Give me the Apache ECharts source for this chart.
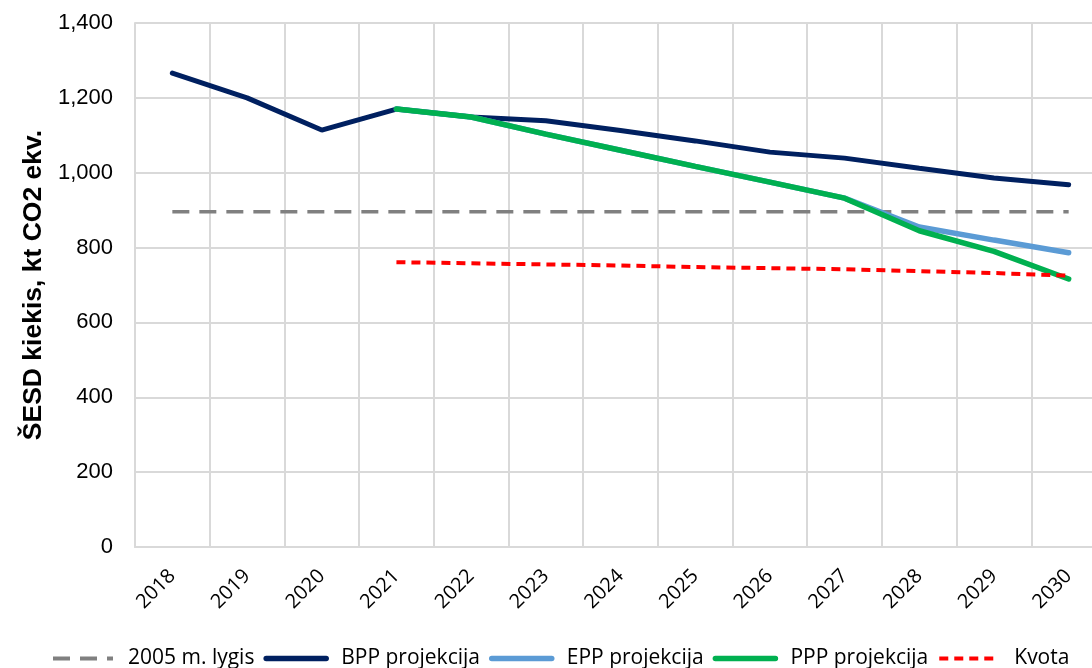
<!DOCTYPE html>
<html>
<head>
<meta charset="utf-8">
<script src="https://cdn.jsdelivr.net/npm/echarts@6/dist/echarts.min.js"></script>
<style>
  html, body { margin: 0; padding: 0; background: #fff; overflow: hidden; }
  #chart { width: 1092px; height: 668px; }
</style>
</head>
<body>
<div id="chart"></div>
<script>
const years = ['2018', '2019', '2020', '2021', '2022', '2023', '2024', '2025', '2026', '2027', '2028', '2029', '2030'];
const level2005 = [896, 896, 896, 896, 896, 896, 896, 896, 896, 896, 896, 896, 896];
const bpp = [1266, 1200, 1114, 1170, 1149, 1139, 1113, 1085, 1055, 1039, 1012, 986, 968];
const epp = [null, null, null, 1170, 1149, 1103, 1060, 1017, 975, 932, 855, 820, 786];
const ppp = [null, null, null, 1170, 1149, 1103, 1060, 1017, 975, 932, 845, 790, 716];
const kvota = [null, null, null, 761, 758, 755, 752, 748, 745, 742, 737, 732, 725];
const seriesNames = ['2005 m. lygis', 'BPP projekcija', 'EPP projekcija', 'PPP projekcija', 'Kvota'];

const gridColor = '#d9d9d9';

const myChart = echarts.init(document.getElementById('chart'));
myChart.setOption({
  animation: false,
  grid: { left: 135, top: 23, width: 971, height: 524, outerBoundsMode: 'none', containLabel: false },
  legend: {
    bottom: -6,
    left: 46,
    itemWidth: 60,
    itemHeight: 14,
    itemGap: 9,
    itemStyle: { opacity: 0 },
    textStyle: { fontFamily: 'Open Sans', fontSize: 21, color: '#000', padding: [0, 0, 0, 10] },
    data: seriesNames.map((n, i) => ({
      name: n,
      lineStyle: { width: i === 0 || i === 4 ? 4 : 5.5, cap: i === 0 || i === 4 ? 'butt' : 'round' }
    }))
  },
  xAxis: {
    type: 'category',
    data: years,
    boundaryGap: true,
    axisLine: { lineStyle: { color: gridColor, width: 2 } },
    axisTick: { show: false },
    splitLine: { show: true, lineStyle: { color: gridColor, width: 2 } },
    axisLabel: {
      rotate: 45,
      margin: 26,
      color: '#000',
      fontFamily: 'Open Sans',
      fontSize: 20
    }
  },
  yAxis: {
    type: 'value',
    min: 0,
    max: 1400,
    interval: 200,
    name: 'ŠESD kiekis, kt CO2 ekv.',
    nameLocation: 'middle',
    nameGap: 88,
    nameTextStyle: { fontFamily: 'Liberation Sans', fontSize: 26.5, fontWeight: 'bold', color: '#000' },
    axisLine: { show: true, lineStyle: { color: gridColor, width: 2 } },
    axisTick: { show: false },
    splitLine: { lineStyle: { color: gridColor, width: 2 } },
    axisLabel: {
      margin: 22,
      color: '#000',
      fontFamily: 'Liberation Sans',
      fontSize: 22,
      formatter: (v) => v.toLocaleString('en-US')
    }
  },
  series: [
    {
      name: seriesNames[0], type: 'line', data: level2005, symbol: 'none',
      lineStyle: { color: '#808080', width: 3.5, type: [17, 10] },
      itemStyle: { color: '#808080' }
    },
    {
      name: seriesNames[1], type: 'line', data: bpp, symbol: 'none',
      lineStyle: { color: '#002060', width: 5, cap: 'round' },
      itemStyle: { color: '#002060' }
    },
    {
      name: seriesNames[2], type: 'line', data: epp, symbol: 'none',
      lineStyle: { color: '#5b9bd5', width: 5.5, cap: 'round' },
      itemStyle: { color: '#5b9bd5' }
    },
    {
      name: seriesNames[3], type: 'line', data: ppp, symbol: 'none',
      lineStyle: { color: '#00b050', width: 5.5, cap: 'round' },
      itemStyle: { color: '#00b050' }
    },
    {
      name: seriesNames[4], type: 'line', data: kvota, symbol: 'none',
      lineStyle: { color: '#ff0000', width: 4, type: [9, 6] },
      itemStyle: { color: '#ff0000' }
    }
  ]
});
</script>
</body>
</html>
